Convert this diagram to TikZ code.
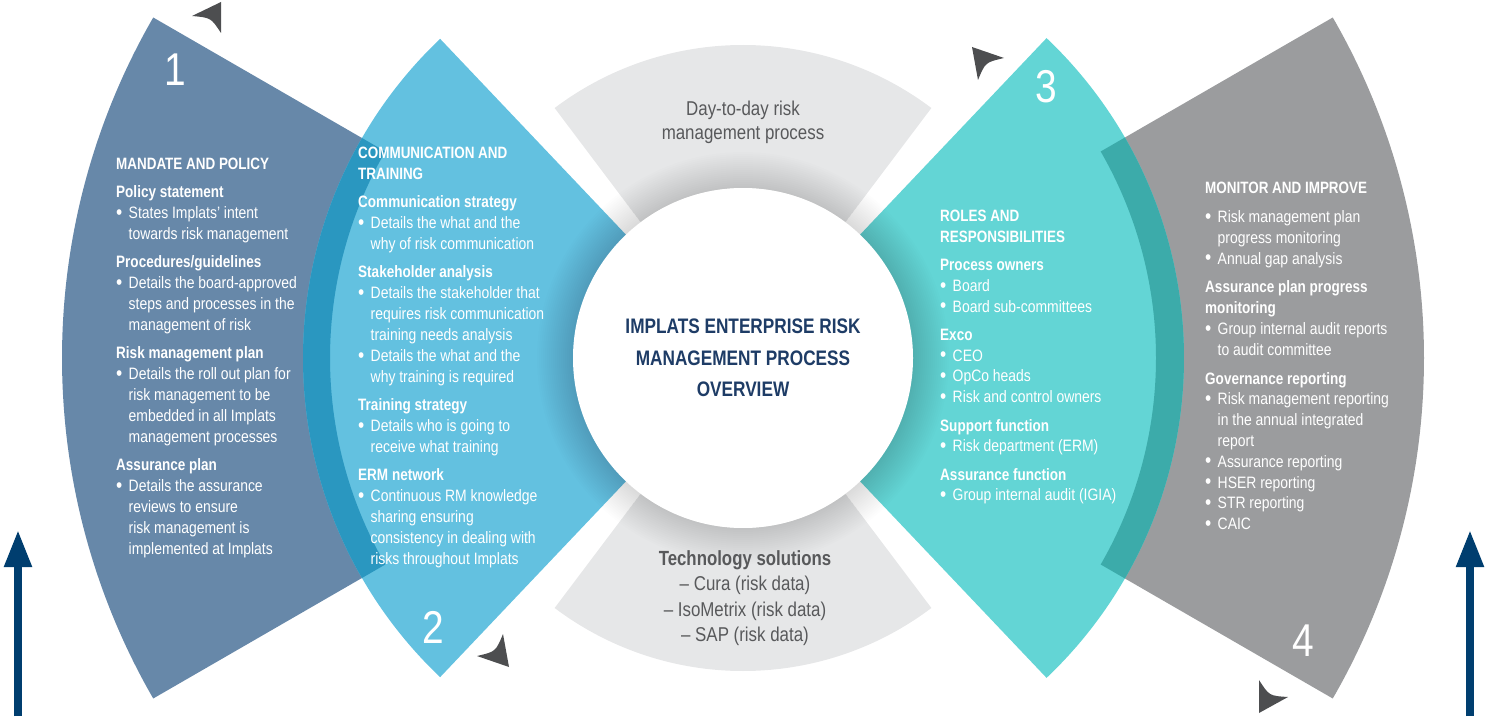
\documentclass[tikz,border=0pt]{standalone}
\usepackage{fontspec}
\setmainfont{Liberation Sans}[FakeStretch=0.845, BoldFeatures={FakeStretch=0.82}]
\usetikzlibrary{calc,arrows.meta}

\definecolor{slate}{HTML}{6788A9}
\definecolor{sky}{HTML}{63C1E0}
\definecolor{skydeep}{HTML}{2A97C0}
\definecolor{aqua}{HTML}{63D5D5}
\definecolor{aquadeep}{HTML}{3CABAA}
\definecolor{stone}{HTML}{9B9C9E}
\definecolor{mist}{HTML}{E6E7E8}
\definecolor{ink}{HTML}{58595B}
\definecolor{navy}{HTML}{003E6F}
\definecolor{corenavy}{HTML}{1E3C66}
\definecolor{pointer}{HTML}{4D4E50}

\newcommand{\hd}[1]{{\fontsize{16.4}{21}\selectfont\bfseries #1}}
\newcommand{\sh}[1]{{\bfseries #1}}
\newcommand{\bl}{\makebox[12.5pt][l]{\smash{\raisebox{-0.6pt}{\fontsize{21}{21}\selectfont\textbullet}}}}
\newcommand{\cn}{\hspace*{12.5pt}}

\tikzset{
  blocktext/.style={anchor=north west, inner sep=0pt, align=left, text=white,
    font=\fontsize{16.5}{21}\selectfont},
  stepnum/.style={text=white, inner sep=0pt, font=\fontsize{46}{46}\selectfont},
  pointerhead/.style={fill=pointer},
  uparrow/.style={draw=navy, line width=8pt, -{Triangle[width=26pt,length=37pt]}},
}

\begin{document}
\begin{tikzpicture}[x=1pt,y=1pt]
\useasboundingbox (0,0) rectangle (1491,716);
\coordinate (C) at (743,358);

% outer annular sectors: mandate (left) and monitor (right)
\fill[slate] ($(C)+(150:413)$) arc[start angle=150,end angle=210,radius=413]
  -- ($(C)+(210:681)$) arc[start angle=210,end angle=150,radius=681] -- cycle;
\fill[stone] ($(C)+(-30:413)$) arc[start angle=-30,end angle=30,radius=413]
  -- ($(C)+(30:681)$) arc[start angle=30,end angle=-30,radius=681] -- cycle;

% light grey segments above and below the core
\fill[mist] ($(C)+(53:170)$) arc[start angle=53,end angle=127,radius=170]
  -- ($(C)+(127:313)$) arc[start angle=127,end angle=53,radius=313] -- cycle;
\fill[mist] ($(C)+(233:170)$) arc[start angle=233,end angle=307,radius=170]
  -- ($(C)+(307:313)$) arc[start angle=307,end angle=233,radius=313] -- cycle;

% inner wedges: communication (left) and roles (right)
\fill[sky] (C) -- ($(C)+(133.5:440)$) arc[start angle=133.5,end angle=226.5,radius=440] -- cycle;
\fill[aqua] (C) -- ($(C)+(-46.5:441)$) arc[start angle=-46.5,end angle=46.5,radius=441] -- cycle;

% darker bands where wedges and outer sectors overlap
\begin{scope}
  \clip ($(C)+(150:413)$) arc[start angle=150,end angle=210,radius=413]
    -- ($(C)+(210:681)$) arc[start angle=210,end angle=150,radius=681] -- cycle;
  \fill[skydeep] (C) -- ($(C)+(133.5:440)$) arc[start angle=133.5,end angle=226.5,radius=440] -- cycle;
\end{scope}
\begin{scope}
  \clip ($(C)+(-30:413)$) arc[start angle=-30,end angle=30,radius=413]
    -- ($(C)+(30:681)$) arc[start angle=30,end angle=-30,radius=681] -- cycle;
  \fill[aquadeep] (C) -- ($(C)+(-46.5:441)$) arc[start angle=-46.5,end angle=46.5,radius=441] -- cycle;
\end{scope}

% soft shadow around the core
\foreach \r in {172,174,...,206} {
  \fill[black, opacity=0.009] (C) circle[radius=\r];
}

% core
\node[circle, fill=white, minimum size=340pt, inner sep=0pt, align=center,
  text=corenavy, font=\fontsize{21}{31.5}\selectfont\bfseries] (core) at (C)
  {IMPLATS ENTERPRISE RISK\\MANAGEMENT PROCESS\\OVERVIEW};

% grey segment labels
\node[align=center, text=ink, inner sep=0pt, font=\fontsize{20}{24}\selectfont]
  (daily) at (743,594) {Day-to-day risk\\management process};
\node[align=center, text=ink, inner sep=0pt, font=\fontsize{20}{25.3}\selectfont]
  (tech) at (745,118) {{\fontsize{20.5}{25.3}\selectfont\bfseries Technology solutions}\\– Cura (risk data)\\– IsoMetrix (risk data)\\– SAP (risk data)};

% text blocks
\node[blocktext] (mandate) at (116,558) {%
\hd{MANDATE AND POLICY}\\[7pt]
\sh{Policy statement}\\
\bl States Implats' intent\\
\cn towards risk management\\[7pt]
\sh{Procedures/guidelines}\\
\bl Details the board-approved\\
\cn steps and processes in the\\
\cn management of risk\\[7pt]
\sh{Risk management plan}\\
\bl Details the roll out plan for\\
\cn risk management to be\\
\cn embedded in all Implats\\
\cn management processes\\[7pt]
\sh{Assurance plan}\\
\bl Details the assurance\\
\cn reviews to ensure\\
\cn risk management is\\
\cn implemented at Implats};

\node[blocktext] (comms) at (358,569) {%
\hd{COMMUNICATION AND}\\
\hd{TRAINING}\\[7pt]
\sh{Communication strategy}\\
\bl Details the what and the\\
\cn why of risk communication\\[7pt]
\sh{Stakeholder analysis}\\
\bl Details the stakeholder that\\
\cn requires risk communication\\
\cn training needs analysis\\
\bl Details the what and the\\
\cn why training is required\\[7pt]
\sh{Training strategy}\\
\bl Details who is going to\\
\cn receive what training\\[7pt]
\sh{ERM network}\\
\bl Continuous RM knowledge\\
\cn sharing ensuring\\
\cn consistency in dealing with\\
\cn risks throughout Implats};

\node[blocktext, font=\fontsize{16.5}{20.6}\selectfont] (roles) at (940,506) {%
\hd{ROLES AND}\\
\hd{RESPONSIBILITIES}\\[8pt]
\sh{Process owners}\\
\bl Board\\
\bl Board sub-committees\\[8pt]
\sh{Exco}\\
\bl CEO\\
\bl OpCo heads\\
\bl Risk and control owners\\[8pt]
\sh{Support function}\\
\bl Risk department (ERM)\\[8pt]
\sh{Assurance function}\\
\bl Group internal audit (IGIA)};

\node[blocktext, font=\fontsize{16.5}{20.8}\selectfont] (monitor) at (1205,534) {%
\hd{MONITOR AND IMPROVE}\\[8pt]
\bl Risk management plan\\
\cn progress monitoring\\
\bl Annual gap analysis\\[8pt]
\sh{Assurance plan progress}\\
\sh{monitoring}\\
\bl Group internal audit reports\\
\cn to audit committee\\[8pt]
\sh{Governance reporting}\\
\bl Risk management reporting\\
\cn in the annual integrated\\
\cn report\\
\bl Assurance reporting\\
\bl HSER reporting\\
\bl STR reporting\\
\bl CAIC};

% step numbers
\node[stepnum] (n1) at (175,646) {1};
\node[stepnum] (n2) at (433,89) {2};
\node[stepnum] (n3) at (1046,629) {3};
\node[stepnum] (n4) at (1303,75) {4};

% direction pointers: tip, two wings and a concave back
\coordinate (pa) at (221,714); \coordinate (pa1) at (192,700);
\coordinate (pa2) at (221,683); \coordinate (pan) at (210.9,698.3);
\fill[pointerhead] (pa) -- (pa1) .. controls (pan) .. (pa2) -- cycle;

\coordinate (pb) at (972,669); \coordinate (pb1) at (1004,658);
\coordinate (pb2) at (978,636); \coordinate (pbn) at (985.3,653.6);
\fill[pointerhead] (pb) -- (pb1) .. controls (pbn) .. (pb2) -- cycle;

\coordinate (pc) at (509,49); \coordinate (pc1) at (477,60);
\coordinate (pc2) at (503,82); \coordinate (pcn) at (495.7,64.4);
\fill[pointerhead] (pc) -- (pc1) .. controls (pcn) .. (pc2) -- cycle;

\coordinate (pd) at (1259,3); \coordinate (pd1) at (1259,36);
\coordinate (pd2) at (1288,19); \coordinate (pdn) at (1269.2,20.2);
\fill[pointerhead] (pd) -- (pd1) .. controls (pdn) .. (pd2) -- cycle;

% upward arrows at the sides
\coordinate (la0) at (18,0); \coordinate (la1) at (18,186);
\coordinate (ra0) at (1470,0); \coordinate (ra1) at (1470,186);
\draw[uparrow] (la0) -- (la1);
\draw[uparrow] (ra0) -- (ra1);
\end{tikzpicture}
\end{document}
